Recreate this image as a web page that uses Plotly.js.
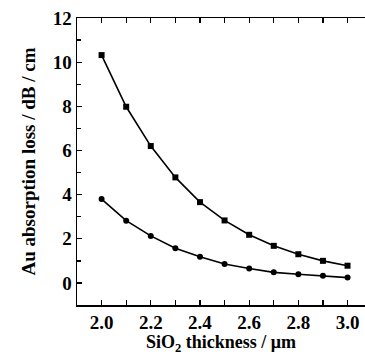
<!DOCTYPE html>
<html><head><meta charset="utf-8">
<script src="https://cdn.plot.ly/plotly-3.0.1.min.js"></script>
<style>html,body{margin:0;padding:0;background:#fff;}#c{width:365px;height:355px;}</style>
</head><body><div id="c"></div>
<script>
const thickness = [2.0, 2.1, 2.2, 2.3, 2.4, 2.5, 2.6, 2.7, 2.8, 2.9, 3.0];
const lossUpper = [10.32, 7.98, 6.2, 4.78, 3.66, 2.83, 2.18, 1.68, 1.3, 1.0, 0.78];
const lossLower = [3.8, 2.82, 2.13, 1.57, 1.19, 0.86, 0.65, 0.48, 0.39, 0.32, 0.24];

const fam = '"Liberation Serif", "Times New Roman", serif';
const f = (size, weight) => ({family: fam, color: '#000', size: size, weight: weight});
const traces = [
  {x: thickness, y: lossUpper, mode: 'lines+markers', line: {color: '#000', width: 1.6},
   marker: {symbol: 'square', size: 6, color: '#000'}, showlegend: false},
  {x: thickness, y: lossLower, mode: 'lines+markers', line: {color: '#000', width: 1.6},
   marker: {symbol: 'circle', size: 6, color: '#000'}, showlegend: false}
];
const layout = {
  width: 365, height: 355,
  margin: {l: 77, r: 0, t: 18, b: 50},
  paper_bgcolor: '#fff', plot_bgcolor: '#fff',
  font: f(18, 'bold'),
  xaxis: {
    range: [1.9, 3.071], dtick: 0.2, tick0: 2.0, tickformat: '.1f',
    ticks: 'inside', ticklen: 5, tickwidth: 1.3, tickcolor: '#000',
    minor: {dtick: 0.1, tick0: 2.0, ticks: 'inside', ticklen: 5, tickwidth: 1.3, tickcolor: '#000'},
    showline: true, linecolor: '#000', linewidth: 1.5, mirror: 'ticks',
    showgrid: false, zeroline: false,
    tickfont: f(19, 'bold'),
    title: {text: 'SiO<sub>2</sub> thickness / μm', font: f(18, 'bold'), standoff: 1}
  },
  yaxis: {
    range: [-1, 12], dtick: 2, tick0: 0,
    ticks: 'inside', ticklen: 5, tickwidth: 1.3, tickcolor: '#000',
    minor: {dtick: 1, tick0: 0, ticks: 'inside', ticklen: 4, tickwidth: 1.3, tickcolor: '#000'},
    showline: true, linecolor: '#000', linewidth: 1.5, mirror: false,
    showgrid: false, zeroline: false,
    tickfont: f(19, 'bold'),
    title: {text: 'Au absorption loss / dB / cm', font: f(19, 'bold'), standoff: 12}
  }
};
Plotly.newPlot('c', traces, layout, {displayModeBar: false, staticPlot: true});
</script></body></html>
